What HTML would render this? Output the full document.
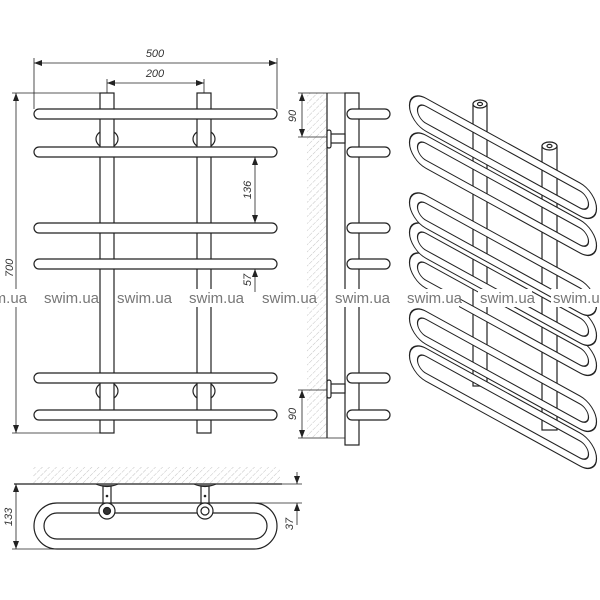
<!DOCTYPE html>
<html><head><meta charset="utf-8"><style>
html,body{margin:0;padding:0;background:#fff;width:600px;height:600px;overflow:hidden}
svg{display:block}
.t{font-family:"Liberation Sans",sans-serif;font-style:italic;font-size:11px;fill:#333}
.w{font-family:"Liberation Sans",sans-serif;font-size:15px;fill:#777}
</style></head><body>
<svg width="600" height="600" viewBox="0 0 600 600" xmlns="http://www.w3.org/2000/svg">
<defs>
<pattern id="h" width="5" height="5" patternUnits="userSpaceOnUse" patternTransform="rotate(45)">
<line x1="0" y1="0" x2="0" y2="5" stroke="#aaa" stroke-width="0.7" stroke-dasharray="3,1"/>
</pattern>
<marker id="a" markerWidth="8" markerHeight="6" refX="8" refY="3" orient="auto-start-reverse" markerUnits="userSpaceOnUse">
<path d="M0,0 L8,3 L0,6 z" fill="#222"/></marker>
</defs>
<g stroke="#222" stroke-width="1.2" fill="#fff">
<!-- FRONT VIEW -->
<ellipse cx="107" cy="139" rx="11" ry="9" fill="none"/>
<ellipse cx="204" cy="139" rx="11" ry="9" fill="none"/>
<ellipse cx="107" cy="391" rx="11" ry="9" fill="none"/>
<ellipse cx="204" cy="391" rx="11" ry="9" fill="none"/>
<rect x="100" y="93" width="14" height="340"/>
<rect x="197" y="93" width="14" height="340"/>
<rect x="34" y="109" width="243" height="10" rx="5"/>
<rect x="34" y="147" width="243" height="10" rx="5"/>
<rect x="34" y="223" width="243" height="10" rx="5"/>
<rect x="34" y="259" width="243" height="10" rx="5"/>
<rect x="34" y="373" width="243" height="10" rx="5"/>
<rect x="34" y="410" width="243" height="10" rx="5"/>
</g>
<g stroke="#222" stroke-width="0.8" fill="none">
<line x1="34" y1="58" x2="34" y2="109"/><line x1="277" y1="58" x2="277" y2="109"/>
<line x1="34" y1="63" x2="277" y2="63" marker-start="url(#a)" marker-end="url(#a)"/>
<line x1="107" y1="79" x2="107" y2="93"/><line x1="204" y1="79" x2="204" y2="93"/>
<line x1="107" y1="83" x2="204" y2="83" marker-start="url(#a)" marker-end="url(#a)"/>
<line x1="12" y1="93" x2="100" y2="93"/><line x1="12" y1="433" x2="100" y2="433"/>
<line x1="16" y1="93" x2="16" y2="433" marker-start="url(#a)" marker-end="url(#a)"/>
<line x1="255" y1="157" x2="255" y2="223" marker-start="url(#a)" marker-end="url(#a)"/>
<line x1="255" y1="269" x2="255" y2="292" marker-start="url(#a)"/>
</g>
<text class="t" x="155" y="57" text-anchor="middle">500</text>
<text class="t" x="155" y="77" text-anchor="middle">200</text>
<text class="t" transform="translate(13,268) rotate(-90)" text-anchor="middle">700</text>
<text class="t" transform="translate(251,190) rotate(-90)" text-anchor="middle">136</text>
<text class="t" transform="translate(251,280) rotate(-90)" text-anchor="middle">57</text>

<!-- SIDE VIEW -->
<rect x="307" y="93" width="20" height="345" fill="url(#h)"/>
<g stroke="#222" stroke-width="1.2" fill="#fff">
<line x1="327" y1="93" x2="327" y2="438"/>
<rect x="345" y="93" width="14" height="352"/>
<rect x="330" y="134" width="15" height="9"/>
<rect x="327" y="130" width="4" height="18" rx="2"/>
<rect x="330" y="384" width="15" height="9"/>
<rect x="327" y="380" width="4" height="18" rx="2"/>
<rect x="347" y="109" width="43" height="10" rx="5"/>
<rect x="347" y="147" width="43" height="10" rx="5"/>
<rect x="347" y="223" width="43" height="10" rx="5"/>
<rect x="347" y="259" width="43" height="10" rx="5"/>
<rect x="347" y="373" width="43" height="10" rx="5"/>
<rect x="347" y="410" width="43" height="10" rx="5"/>
</g>
<g stroke="#222" stroke-width="0.8" fill="none">
<line x1="298" y1="93" x2="345" y2="93"/><line x1="298" y1="137" x2="327" y2="137"/>
<line x1="302" y1="93" x2="302" y2="137" marker-start="url(#a)" marker-end="url(#a)"/>
<line x1="298" y1="390" x2="327" y2="390"/><line x1="298" y1="438" x2="345" y2="438"/>
<line x1="302" y1="390" x2="302" y2="438" marker-start="url(#a)" marker-end="url(#a)"/>
</g>
<text class="t" transform="translate(296,116) rotate(-90)" text-anchor="middle">90</text>
<text class="t" transform="translate(296,414) rotate(-90)" text-anchor="middle">90</text>

<!-- ISO VIEW -->
<g stroke="#222" stroke-width="1.2" fill="#fff">
<rect x="473" y="104" width="14" height="282"/>
<ellipse cx="480" cy="104" rx="7" ry="4"/>
<ellipse cx="480" cy="104" rx="2.5" ry="1.6"/>
<rect x="542" y="146" width="15" height="284"/>
<ellipse cx="549.5" cy="146" rx="7.5" ry="4"/>
<ellipse cx="549.5" cy="146" rx="2.5" ry="1.6"/>
</g>
<g stroke="#222" stroke-width="1.2" fill="#fff" fill-rule="evenodd">
<g transform="matrix(1,0.55,0,1,0,340)"><path d="M426,0 H580 A16.5,16.5 0 0 1 580,33 H426 A16.5,16.5 0 0 1 426,0 Z M426,8 H580 A8.5,8.5 0 0 1 580,25 H426 A8.5,8.5 0 0 1 426,8 Z" transform="translate(0,-226)"/></g>
<g transform="matrix(1,0.55,0,1,0,303)"><path d="M426,0 H580 A16.5,16.5 0 0 1 580,33 H426 A16.5,16.5 0 0 1 426,0 Z M426,8 H580 A8.5,8.5 0 0 1 580,25 H426 A8.5,8.5 0 0 1 426,8 Z" transform="translate(0,-226)"/></g>
<g transform="matrix(1,0.55,0,1,0,247)"><path d="M426,0 H580 A16.5,16.5 0 0 1 580,33 H426 A16.5,16.5 0 0 1 426,0 Z M426,8 H580 A8.5,8.5 0 0 1 580,25 H426 A8.5,8.5 0 0 1 426,8 Z" transform="translate(0,-226)"/></g>
<g transform="matrix(1,0.55,0,1,0,217)"><path d="M426,0 H580 A16.5,16.5 0 0 1 580,33 H426 A16.5,16.5 0 0 1 426,0 Z M426,8 H580 A8.5,8.5 0 0 1 580,25 H426 A8.5,8.5 0 0 1 426,8 Z" transform="translate(0,-226)"/></g>
<g transform="matrix(1,0.55,0,1,0,187)"><path d="M426,0 H580 A16.5,16.5 0 0 1 580,33 H426 A16.5,16.5 0 0 1 426,0 Z M426,8 H580 A8.5,8.5 0 0 1 580,25 H426 A8.5,8.5 0 0 1 426,8 Z" transform="translate(0,-226)"/></g>
<g transform="matrix(1,0.55,0,1,0,127)"><path d="M426,0 H580 A16.5,16.5 0 0 1 580,33 H426 A16.5,16.5 0 0 1 426,0 Z M426,8 H580 A8.5,8.5 0 0 1 580,25 H426 A8.5,8.5 0 0 1 426,8 Z" transform="translate(0,-226)"/></g>
<g transform="matrix(1,0.55,0,1,0,90)"><path d="M426,0 H580 A16.5,16.5 0 0 1 580,33 H426 A16.5,16.5 0 0 1 426,0 Z M426,8 H580 A8.5,8.5 0 0 1 580,25 H426 A8.5,8.5 0 0 1 426,8 Z" transform="translate(0,-226)"/></g>
</g>

<!-- TOP VIEW -->
<rect x="33" y="467" width="247" height="17" fill="url(#h)"/>
<g stroke="#222" stroke-width="1.2" fill="#fff" fill-rule="evenodd">
<line x1="14" y1="484" x2="282" y2="484"/>
<path d="M57,503 H254 A23,23 0 0 1 254,549 H57 A23,23 0 0 1 57,503 Z M57,513 H254 A13,13 0 0 1 254,539 H57 A13,13 0 0 1 57,513 Z"/>
<rect x="103" y="485" width="8" height="18"/>
<rect x="201" y="485" width="8" height="18"/>
<path d="M96,484 Q107,489 118,484" fill="#666"/>
<path d="M194,484 Q205,489 216,484" fill="#666"/>
<circle cx="107" cy="511" r="8"/><circle cx="107" cy="511" r="3.5" fill="#333"/>
<circle cx="205" cy="511" r="8"/><circle cx="205" cy="511" r="4"/>
</g>
<circle cx="107" cy="496" r="1.3" fill="#222"/><circle cx="205" cy="496" r="1.3" fill="#222"/>
<g stroke="#222" stroke-width="0.8" fill="none">
<line x1="12" y1="549" x2="57" y2="549"/>
<line x1="16" y1="484" x2="16" y2="549" marker-start="url(#a)" marker-end="url(#a)"/>
<line x1="213" y1="503" x2="302" y2="503"/><line x1="282" y1="484" x2="302" y2="484"/>
<line x1="297" y1="472" x2="297" y2="484" marker-end="url(#a)"/>
<line x1="297" y1="525" x2="297" y2="503" marker-end="url(#a)"/>
</g>
<text class="t" transform="translate(12,517) rotate(-90)" text-anchor="middle">133</text>
<text class="t" transform="translate(293,524) rotate(-90)" text-anchor="middle">37</text>

<!-- WATERMARK -->
<g>
<rect x="-40" y="289" width="60" height="18" fill="#fff"/>
<rect x="42" y="289" width="54" height="18" fill="#fff"/>
<rect x="115" y="289" width="54" height="18" fill="#fff"/>
<rect x="187" y="289" width="54" height="18" fill="#fff"/>
<rect x="260" y="289" width="54" height="18" fill="#fff"/>
<rect x="333" y="289" width="54" height="18" fill="#fff"/>
<rect x="405" y="289" width="54" height="18" fill="#fff"/>
<rect x="478" y="289" width="54" height="18" fill="#fff"/>
<rect x="551" y="289" width="54" height="18" fill="#fff"/>
<text class="w" x="-28" y="303">swim.ua</text>
<text class="w" x="44" y="303">swim.ua</text>
<text class="w" x="117" y="303">swim.ua</text>
<text class="w" x="189" y="303">swim.ua</text>
<text class="w" x="262" y="303">swim.ua</text>
<text class="w" x="335" y="303">swim.ua</text>
<text class="w" x="407" y="303">swim.ua</text>
<text class="w" x="480" y="303">swim.ua</text>
<text class="w" x="553" y="303">swim.ua</text>
</g>
</svg>
</body></html>
